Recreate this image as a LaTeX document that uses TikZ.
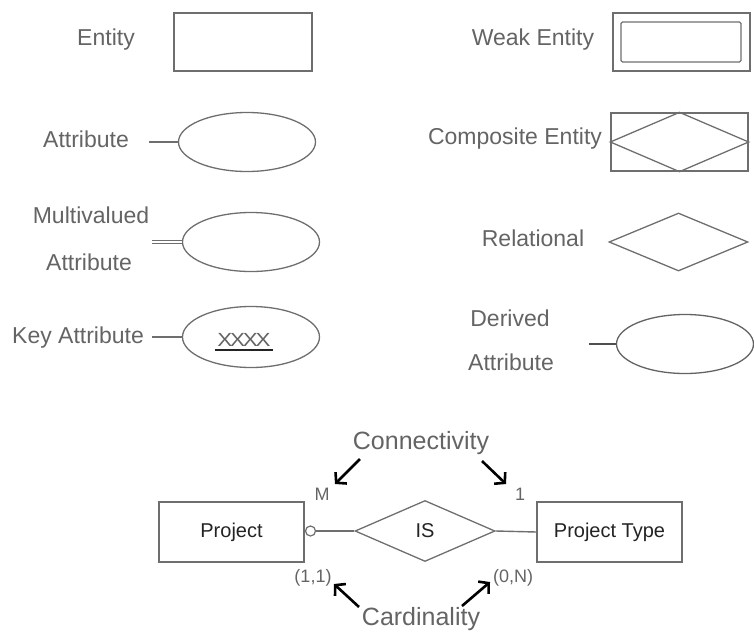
\documentclass[tikz,border=0pt]{standalone}
\usepackage{fontspec}
\setmainfont{Liberation Sans}
\usetikzlibrary{shapes.geometric,arrows.meta}

\definecolor{inkgray}{RGB}{100,100,100}
\definecolor{linegray}{RGB}{110,110,110}
\definecolor{darkink}{RGB}{35,35,35}

\tikzset{
  label text/.style={text=inkgray, font=\fontsize{23}{27}\selectfont, inner sep=0pt},
  small text/.style={text=inkgray, font=\fontsize{18}{21}\selectfont, inner sep=0pt},
  note text/.style={text=inkgray, font=\fontsize{25}{29}\selectfont, inner sep=0pt},
  ent box/.style={draw=linegray, line width=1.3pt, rectangle, inner sep=0pt},
  attr oval/.style={draw=linegray, line width=1.3pt, ellipse, inner sep=0pt,
                    minimum width=137pt, minimum height=59pt},
  rel diamond/.style={draw=linegray, line width=1.3pt, diamond, inner sep=0pt},
  link/.style={draw=linegray, line width=1.4pt},
  pointer/.style={draw=black, line width=2.6pt,
                  -{Straight Barb[length=7pt,width=16pt,line width=2.6pt]}},
}

\begin{document}
\begin{tikzpicture}[x=1pt,y=-1pt]
  \useasboundingbox (0,0) rectangle (754,634);

  % ---- legend, left column ----
  \node[label text] (lEntity) at (106,40) {Entity};
  \node[ent box, minimum width=138pt, minimum height=58pt] (entity) at (243,42) {};

  \node[label text] (lAttr) at (86,139) {Attribute};
  \node[attr oval] (attr) at (247,142) {};
  \coordinate (attrL) at (149,142);
  \draw[link] (attrL) -- (attr.west);

  \node[label text] (lMulti1) at (91,215) {Multivalued};
  \node[label text] (lMulti2) at (89,262) {Attribute};
  \node[attr oval] (multi) at (251,242) {};
  \coordinate (multiL) at (152,242);
  \draw[draw=linegray, line width=1.1pt, double=white, double distance=2.2pt]
    (multiL) -- (multi.west);

  \node[label text] (lKey) at (78,338) {Key Attribute};
  \node[attr oval, minimum height=61pt] (key) at (251,337) {};
  \node[text=inkgray, font=\fontsize{20}{22}\selectfont, inner sep=0pt] (keyx) at (244,340)
    {\scalebox{1.12}[0.95]{X\kern-2pt X\kern-2pt X\kern-2pt X}};
  \coordinate (ulL) at (215,350);
  \coordinate (ulR) at (273,350);
  \draw[draw=darkink, line width=2pt] (ulL) -- (ulR);
  \coordinate (keyL) at (152,337);
  \draw[link] (keyL) -- (key.west);

  % ---- legend, right column ----
  \node[label text] (lWeak) at (533,40) {Weak Entity};
  \node[ent box, minimum width=137pt, minimum height=58pt] (weak) at (681.5,42) {};
  \node[ent box, minimum width=120pt, minimum height=40pt, rounded corners=1.5pt] (weakIn) at (681,42) {};

  \node[label text] (lComp) at (515,139) {Composite Entity};
  \node[ent box, minimum width=137pt, minimum height=58pt] (comp) at (679.5,142) {};
  \draw[link, line width=1.3pt] (comp.west) -- (comp.north) -- (comp.east) -- (comp.south) -- cycle;

  \node[label text] (lRel) at (533,238) {Relational};
  \node[rel diamond, minimum width=139pt, minimum height=58pt] (rel) at (678.5,242) {};

  \node[label text] (lDer1) at (510,318) {Derived};
  \node[label text] (lDer2) at (511,362) {Attribute};
  \node[attr oval, draw=linegray!90!black] (der) at (685,344) {};
  \coordinate (derL) at (589,344);
  \draw[draw=darkink!80, line width=1.1pt] (derL) -- (der.west);

  % ---- example relationship ----
  \node[ent box, minimum width=145pt, minimum height=60pt,
        text=darkink, font=\fontsize{20}{24}\selectfont] (project) at (231.5,532) {Project};
  \node[rel diamond, minimum width=140pt, minimum height=61pt,
        text=darkink, font=\fontsize{20}{24}\selectfont] (is) at (425,531) {IS};
  \node[ent box, minimum width=145pt, minimum height=60pt,
        text=darkink, font=\fontsize{20}{24}\selectfont] (ptype) at (609.5,532) {Project Type};

  \node[circle, draw=linegray, line width=1.2pt, fill=white, minimum size=10pt, inner sep=0pt]
    (opt) at (310.5,531) {};
  \draw[link] (opt.east) -- (is.west);
  \draw[link] (is.east) -- (ptype.west);

  \node[note text] (conn) at (421,443) {Connectivity};
  \node[note text] (card) at (421,619) {Cardinality};

  \node[small text] (mM) at (322,494) {M};
  \node[small text] (m1) at (520,494) {1};
  \node[small text] (c11) at (313,578) {(1,1)};
  \node[small text] (c0N) at (513,578) {(0,N)};

  % arrows from the notes to the markers
  \coordinate (aMs) at (360,459);  \coordinate (aMe) at (335,484);
  \coordinate (a1s) at (482,461);  \coordinate (a1e) at (506,484);
  \coordinate (c1s) at (359,607);  \coordinate (c1e) at (334,584);
  \coordinate (c2s) at (462,606);  \coordinate (c2e) at (490,582);
  \draw[pointer] (aMs) -- (aMe);
  \draw[pointer] (a1s) -- (a1e);
  \draw[pointer] (c1s) -- (c1e);
  \draw[pointer] (c2s) -- (c2e);
\end{tikzpicture}
\end{document}
